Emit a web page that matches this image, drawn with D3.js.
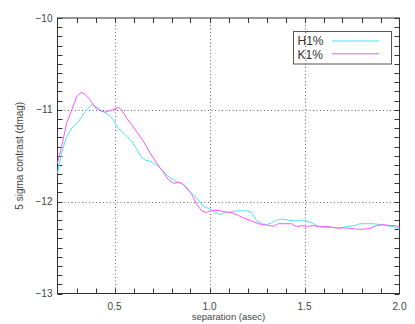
<!DOCTYPE html>
<html>
<head>
<meta charset="utf-8">
<script src="https://cdn.jsdelivr.net/npm/d3@7"></script>
<style>
  body { margin: 0; background: #fff; }
  svg { display: block; }
  text { font-family: "Liberation Sans", Arial, sans-serif; }
</style>
</head>
<body>
<div id="chart"></div>
<script>
// separation (asec) and 5 sigma contrast (dmag)
const sepH = [0.200, 0.222, 0.248, 0.275, 0.310, 0.345, 0.380, 0.397, 0.433, 0.467,
  0.494, 0.520, 0.555, 0.590, 0.617, 0.643, 0.665, 0.687, 0.722, 0.757,
  0.792, 0.827, 0.862, 0.897, 0.933, 0.967, 1.003, 1.030, 1.055, 1.080,
  1.117, 1.143, 1.170, 1.196, 1.222, 1.248, 1.275, 1.300, 1.327, 1.354,
  1.380, 1.415, 1.450, 1.485, 1.510, 1.538, 1.564, 1.600, 1.634, 1.670,
  1.704, 1.730, 1.766, 1.792, 1.827, 1.862, 1.897, 1.933, 1.967, 2.000];
const h1 = [-11.69, -11.47, -11.29, -11.20, -11.13, -11.02, -10.945, -10.96, -11.01, -11.05,
  -11.11, -11.20, -11.27, -11.34, -11.43, -11.52, -11.55, -11.56, -11.60, -11.67,
  -11.74, -11.78, -11.815, -11.89, -11.96, -12.05, -12.08, -12.12, -12.14, -12.12,
  -12.11, -12.10, -12.10, -12.10, -12.12, -12.21, -12.24, -12.25, -12.23, -12.20,
  -12.19, -12.20, -12.21, -12.20, -12.21, -12.23, -12.26, -12.28, -12.28, -12.285,
  -12.28, -12.27, -12.26, -12.24, -12.24, -12.24, -12.25, -12.26, -12.27, -12.30];

const sepK = [0.200, 0.222, 0.248, 0.275, 0.301, 0.324, 0.345, 0.371, 0.397, 0.424,
  0.450, 0.476, 0.503, 0.520, 0.538, 0.564, 0.590, 0.617, 0.652, 0.687,
  0.722, 0.757, 0.783, 0.810, 0.836, 0.854, 0.880, 0.906, 0.933, 0.959,
  0.985, 1.010, 1.046, 1.080, 1.117, 1.152, 1.187, 1.222, 1.257, 1.283,
  1.318, 1.336, 1.362, 1.397, 1.433, 1.459, 1.485, 1.510, 1.546, 1.580,
  1.617, 1.652, 1.678, 1.704, 1.740, 1.775, 1.810, 1.845, 1.880, 1.915,
  1.950, 1.976, 2.000];
const k1 = [-11.58, -11.40, -11.145, -11.00, -10.855, -10.81, -10.83, -10.89, -10.97, -11.01,
  -11.025, -11.01, -10.99, -10.97, -11.00, -11.09, -11.16, -11.24, -11.34, -11.47,
  -11.58, -11.68, -11.76, -11.80, -11.79, -11.80, -11.85, -11.92, -12.03, -12.10,
  -12.12, -12.095, -12.095, -12.11, -12.12, -12.15, -12.185, -12.21, -12.24, -12.25,
  -12.26, -12.27, -12.24, -12.24, -12.24, -12.275, -12.26, -12.27, -12.26, -12.275,
  -12.27, -12.28, -12.29, -12.285, -12.29, -12.30, -12.30, -12.29, -12.26, -12.25,
  -12.26, -12.26, -12.28];

const xTicks = [0.5, 1.0, 1.5, 2.0];
const yTicks = [-13, -12, -11, -10];
const xGrid = [0.5, 1.0, 1.5];
const yGrid = [-12, -11];
const seriesNames = ['H1%', 'K1%'];
const seriesColors = ['#4ae6f4', '#ff55ff'];

const width = 415, height = 324;
const margin = { top: 18, right: 15.5, bottom: 30, left: 57.5 };

const svg = d3.select('#chart').append('svg')
  .attr('width', width)
  .attr('height', height);

const x = d3.scaleLinear().domain([0.2, 2.0]).range([margin.left, width - margin.right]);
const y = d3.scaleLinear().domain([-13, -10]).range([height - margin.bottom - 0.5, margin.top]);

// dotted grid
svg.append('g')
  .selectAll('line')
  .data(xGrid)
  .join('line')
  .attr('x1', d => Math.round(x(d)) + 0.5).attr('x2', d => Math.round(x(d)) + 0.5)
  .attr('y1', y(-10)).attr('y2', y(-13))
  .attr('stroke', '#666').attr('stroke-width', 1).attr('stroke-dasharray', '1,2.5');

svg.append('g')
  .selectAll('line')
  .data(yGrid)
  .join('line')
  .attr('x1', x(0.2)).attr('x2', x(2.0))
  .attr('y1', d => Math.round(y(d)) + 0.5).attr('y2', d => Math.round(y(d)) + 0.5)
  .attr('stroke', '#666').attr('stroke-width', 1).attr('stroke-dasharray', '1,2.5');

// minor + major ticks on all four sides, pointing inward
const tickLen = 5;
const xMinor = d3.range(3, 20).map(i => i / 10);
const yMinor = d3.range(-130, -99).map(i => i / 10);
const tickG = svg.append('g').attr('stroke', '#333').attr('stroke-width', 1);

xMinor.forEach(v => {
  const px = Math.round(x(v)) + 0.5;
  tickG.append('line').attr('x1', px).attr('x2', px).attr('y1', y(-13)).attr('y2', y(-13) - tickLen);
  tickG.append('line').attr('x1', px).attr('x2', px).attr('y1', y(-10)).attr('y2', y(-10) + tickLen);
});
yMinor.forEach(v => {
  const py = Math.round(y(v)) + 0.5;
  tickG.append('line').attr('x1', x(0.2)).attr('x2', x(0.2) + tickLen).attr('y1', py).attr('y2', py);
  tickG.append('line').attr('x1', x(2.0)).attr('x2', x(2.0) - tickLen).attr('y1', py).attr('y2', py);
});

// frame
svg.append('rect')
  .attr('x', x(0.2)).attr('y', y(-10))
  .attr('width', x(2.0) - x(0.2)).attr('height', y(-13) - y(-10))
  .attr('fill', 'none').attr('stroke', '#333').attr('stroke-width', 1);

// tick labels
svg.append('g')
  .selectAll('text')
  .data(xTicks)
  .join('text')
  .attr('x', d => x(d))
  .attr('y', y(-13) + 16)
  .attr('text-anchor', 'middle')
  .attr('font-size', 10)
  .attr('fill', '#444')
  .text(d => d.toFixed(1));

svg.append('g')
  .selectAll('text')
  .data(yTicks)
  .join('text')
  .attr('x', x(0.2) - 5)
  .attr('y', d => y(d) + 3.5)
  .attr('text-anchor', 'end')
  .attr('font-size', 10)
  .attr('fill', '#444')
  .text(d => '\u2212' + Math.abs(d));

// axis titles
svg.append('text')
  .attr('x', (x(0.2) + x(2.0)) / 2)
  .attr('y', height - 4)
  .attr('text-anchor', 'middle')
  .attr('font-size', 9.5)
  .attr('fill', '#444')
  .text('separation (asec)');

svg.append('text')
  .attr('transform', `translate(23,${(y(-10) + y(-13)) / 2}) rotate(-90)`)
  .attr('text-anchor', 'middle')
  .attr('font-size', 10)
  .attr('fill', '#444')
  .text('5 sigma contrast (dmag)');

// curves
const line = d3.line()
  .x(d => x(d[0]))
  .y(d => y(d[1]));

const hData = sepH.map((s, i) => [s, h1[i]]);
const kData = sepK.map((s, i) => [s, k1[i]]);

svg.append('path')
  .datum(hData)
  .attr('fill', 'none')
  .attr('stroke', seriesColors[0])
  .attr('stroke-width', 1)
  .attr('d', line);

svg.append('path')
  .datum(kData)
  .attr('fill', 'none')
  .attr('stroke', seriesColors[1])
  .attr('stroke-width', 1)
  .attr('d', line);

// legend
const legend = svg.append('g').attr('transform', 'translate(293.5,31.5)');
legend.append('rect')
  .attr('width', 98).attr('height', 32.5)
  .attr('fill', 'none').attr('stroke', '#555').attr('stroke-width', 1);

seriesNames.forEach((name, i) => {
  legend.append('text')
    .attr('x', 4)
    .attr('y', 13 + i * 14)
    .attr('font-size', 12)
    .attr('fill', '#333')
    .text(name);
  legend.append('line')
    .attr('x1', 38.5).attr('x2', 85.5)
    .attr('y1', 9.5 + i * 12.8).attr('y2', 9.5 + i * 12.8)
    .attr('stroke', seriesColors[i]).attr('stroke-width', 1);
});
</script>
</body>
</html>
